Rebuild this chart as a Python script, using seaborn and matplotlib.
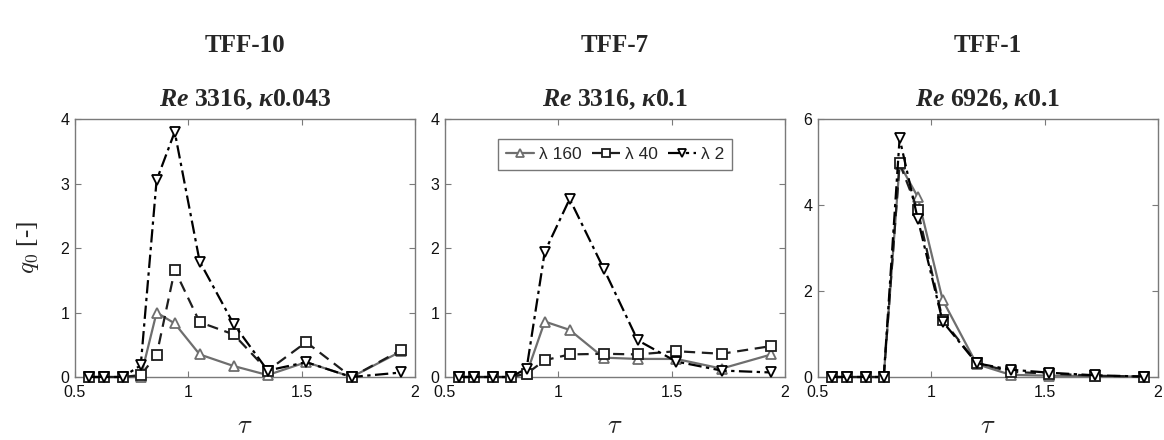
import numpy as np
import pandas as pd
import matplotlib
matplotlib.use("Agg")
import matplotlib.pyplot as plt
import seaborn as sns

# ---- data -------------------------------------------------------------
tau = [0.56, 0.63, 0.71, 0.79, 0.86, 0.94, 1.05, 1.20, 1.35, 1.52, 1.72, 1.94]

panel_names = ["TFF-10", "TFF-7", "TFF-1"]
panel_re = ["3316", "3316", "6926"]
panel_kappa = ["0.043", "0.1", "0.1"]
panel_ymax = [4, 4, 6]
panel_yticks = [[0, 1, 2, 3, 4], [0, 1, 2, 3, 4], [0, 2, 4, 6]]

series_labels = ["\u03bb 160", "\u03bb 40", "\u03bb 2"]

# TFF-10
tff10_l160 = [0, 0, 0, 0.00, 1.00, 0.83, 0.35, 0.17, 0.03, 0.23, 0.00, 0.40]
tff10_l40 = [0, 0, 0, 0.03, 0.34, 1.66, 0.85, 0.66, 0.10, 0.54, 0.00, 0.42]
tff10_l2 = [0, 0, 0, 0.18, 3.05, 3.80, 1.79, 0.82, 0.10, 0.23, 0.00, 0.07]

# TFF-7
tff7_l160 = [0, 0, 0, 0.00, 0.05, 0.86, 0.73, 0.30, 0.28, 0.28, 0.13, 0.35]
tff7_l40 = [0, 0, 0, 0.00, 0.05, 0.26, 0.35, 0.36, 0.35, 0.40, 0.36, 0.48]
tff7_l2 = [0, 0, 0, 0.00, 0.13, 1.94, 2.76, 1.68, 0.57, 0.24, 0.10, 0.07]

# TFF-1
tff1_l160 = [0, 0, 0, 0.00, 4.95, 4.19, 1.79, 0.30, 0.05, 0.03, 0.02, 0.01]
tff1_l40 = [0, 0, 0, 0.00, 4.97, 3.88, 1.33, 0.33, 0.12, 0.08, 0.03, 0.01]
tff1_l2 = [0, 0, 0, 0.00, 5.55, 3.68, 1.29, 0.32, 0.17, 0.10, 0.04, 0.01]

panel_series = [
    [tff10_l160, tff10_l40, tff10_l2],
    [tff7_l160, tff7_l40, tff7_l2],
    [tff1_l160, tff1_l40, tff1_l2],
]

# ---- style ------------------------------------------------------------
sns.set_style("ticks")
plt.rcParams["font.family"] = ["Liberation Sans", "DejaVu Sans"]
plt.rcParams["mathtext.fontset"] = "custom"
plt.rcParams["mathtext.it"] = "Liberation Serif:italic:bold"
plt.rcParams["mathtext.rm"] = "Liberation Serif:bold"
plt.rcParams["mathtext.bf"] = "Liberation Serif:bold"

line_styles = [
    dict(color="#6e6e6e", linestyle="-", marker="^"),
    dict(color="#1e1e1e", linestyle=(0, (5, 3)), marker="s"),
    dict(color="#000000", linestyle=(0, (6, 2, 1.5, 2)), marker="v"),
]

fig = plt.figure(figsize=(11.64, 4.4), dpi=100)
W, H = 1164.0, 440.0
lefts = [75, 445, 818]
ax_w = 340
ax_top, ax_bot = 119, 377

spine_color = "#7a7a7a"

for i in range(3):
    ax = fig.add_axes([lefts[i] / W, 1 - ax_bot / H, ax_w / W, (ax_bot - ax_top) / H])
    rows = []
    for k, lab in enumerate(series_labels):
        for t, v in zip(tau, panel_series[i][k]):
            rows.append({"tau": t, "q0": v, "series": lab})
    df = pd.DataFrame(rows)
    for k, lab in enumerate(series_labels):
        st = line_styles[k]
        sns.lineplot(
            data=df[df["series"] == lab], x="tau", y="q0", ax=ax,
            color=st["color"], linestyle=st["linestyle"], marker=st["marker"],
            markersize=7, markerfacecolor="white", markeredgecolor=st["color"],
            markeredgewidth=1.3, linewidth=1.6, label=lab, legend=False,
            estimator=None, sort=False, clip_on=False, zorder=3 + k,
        )
    ax.set_xlim(0.5, 2)
    ax.set_ylim(0, panel_ymax[i])
    ax.set_xticks([0.5, 1, 1.5, 2])
    ax.set_xticklabels(["0.5", "1", "1.5", "2"])
    ax.set_yticks(panel_yticks[i])
    ax.set_yticklabels([str(v) for v in panel_yticks[i]])
    ax.tick_params(direction="in", top=True, right=True, length=4, width=0.8,
                   color=spine_color, labelsize=11.5, labelcolor="#111111")
    ax.tick_params(axis="x", pad=6)
    ax.tick_params(axis="y", pad=4)
    for sp in ax.spines.values():
        sp.set_color(spine_color)
        sp.set_linewidth(1.0)
        sp.set_visible(True)
    ax.set_xlabel(r"$\tau$", fontsize=19, math_fontfamily="cm", labelpad=10)
    if i == 0:
        ax.set_ylabel(r"$q_0$ [-]", fontsize=18, math_fontfamily="cm",
                      family="Liberation Serif", labelpad=14)
    else:
        ax.set_ylabel("")
    if i == 1:
        leg = ax.legend(loc="upper center", bbox_to_anchor=(0.5, 0.955), ncol=3,
                        fontsize=12.5, frameon=True, fancybox=False, handlelength=1.6,
                        handletextpad=0.3, columnspacing=0.6, borderpad=0.45,
                        markerscale=0.8)
        leg.get_frame().set_edgecolor("#555555")
        leg.get_frame().set_linewidth(1.0)

    cx = (lefts[i] + ax_w / 2) / W
    fig.text(cx, 1 - 45 / H, panel_names[i], ha="center", va="center",
             family="Liberation Serif", weight="bold", fontsize=18)
    fig.text(cx, 1 - 100 / H, r"$Re$ " + panel_re[i] + r", $\kappa$" + panel_kappa[i],
             ha="center", va="center", family="Liberation Serif", weight="bold",
             fontsize=18.5, math_fontfamily="custom")

fig.savefig("out.png", dpi=100, facecolor="white")
